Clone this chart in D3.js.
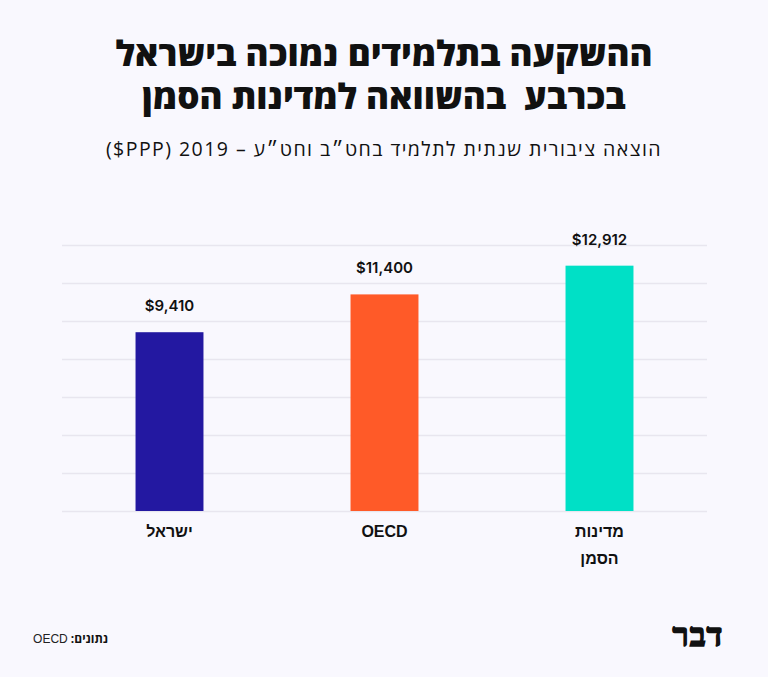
<!DOCTYPE html>
<html><head><meta charset="utf-8">
<script src="https://cdn.jsdelivr.net/npm/d3@7"></script>
<style>
html,body{margin:0;padding:0;background:#f9f8fe;}
svg{display:block;}
text{white-space:pre;}
</style></head>
<body>
<svg id="chart" width="768" height="677"></svg>
<script>
const categories = ["ישראל", "OECD", "מדינות\nהסמן"];
const values = [9410, 11400, 12912];
const valueLabels = ["$9,410", "$11,400", "$12,912"];
const colors = ["#2318a1", "#ff5a28", "#00e0c6"];
const yTicks = [0, 2000, 4000, 6000, 8000, 10000, 12000, 14000];
const titleLines = ["ההשקעה בתלמידים נמוכה בישראל", "בכרבע  בהשוואה למדינות הסמן"];
const subtitle = "הוצאה ציבורית שנתית לתלמיד בחט\u05F4ב וחט\u05F4ע \u2013 2019 \u2066($PPP)\u2069";
const sourceLabel = "נתונים: ";
const sourceValue = "OECD";
const logoText = "דבר";

const svg = d3.select("#chart");
svg.append("rect").attr("width",768).attr("height",677).attr("fill","#f9f8fe");

const heb = "'Open Sans','Liberation Sans','DejaVu Sans',sans-serif";

svg.selectAll("text.title").data(titleLines).join("text")
  .attr("class","title")
  .attr("x",384).attr("y",(d,i)=>66+i*43)
  .attr("text-anchor","middle").attr("direction","rtl")
  .attr("font-family",heb).attr("font-weight",800).attr("font-size",35)
  .attr("fill","#111").text(d=>d);

svg.append("text").attr("x",384).attr("y",156)
  .attr("text-anchor","middle").attr("direction","rtl")
  .attr("font-family",heb).attr("font-weight",500).attr("font-size",19.5)
  .attr("letter-spacing",1.45)
  .attr("fill","#111").text(subtitle);

const x = d3.scaleBand().domain(categories).range([62,707]).paddingInner(0.684).paddingOuter(0.342);
const y = d3.scaleLinear().domain([0,14000]).range([511,245]);

const grid = svg.append("g").call(d3.axisLeft(y).tickValues(yTicks).tickSize(-(707-62)).tickFormat(""))
  .attr("transform","translate(62,0)");
grid.select(".domain").remove();
grid.selectAll("line").attr("stroke","#e8e6ef").attr("stroke-width",1.5);

svg.selectAll("rect.bar").data(values).join("rect")
  .attr("class","bar")
  .attr("x",(d,i)=>x(categories[i]))
  .attr("width",x.bandwidth())
  .attr("y",d=>y(d))
  .attr("height",d=>y(0)-y(d))
  .attr("fill",(d,i)=>colors[i]);

svg.selectAll("text.val").data(values).join("text")
  .attr("class","val")
  .attr("x",(d,i)=>x(categories[i])+x.bandwidth()/2)
  .attr("y",d=>y(d)-21)
  .attr("text-anchor","middle")
  .attr("font-family","Inter, 'Open Sans', sans-serif").attr("font-weight",600).attr("font-size",15)
  .attr("fill","#111").text((d,i)=>valueLabels[i]);

const xl = svg.selectAll("text.cat").data(categories).join("text")
  .attr("class","cat")
  .attr("text-anchor","middle").attr("direction","rtl")
  .attr("font-family","'Liberation Sans', 'Open Sans', sans-serif").attr("font-weight",700).attr("font-size",16)
  .attr("fill","#111");
xl.each(function(d){
  const t = d3.select(this);
  d.split("\n").forEach((line,j)=>{
    t.append("tspan").attr("x",x(d)+x.bandwidth()/2).attr("y",537+j*27).text(line);
  });
});

const src = svg.append("text").attr("x",108).attr("y",643).attr("text-anchor","start").attr("direction","rtl")
  .attr("font-size",12).attr("fill","#111");
src.append("tspan").attr("font-family",heb).attr("font-weight",700).text(sourceLabel);
src.append("tspan").attr("font-family","'Liberation Sans', sans-serif").attr("font-weight",400).attr("fill","#222").text(sourceValue);

svg.append("text").attr("x",698).attr("y",646).attr("text-anchor","middle").attr("direction","rtl")
  .attr("font-family","'DejaVu Serif','Liberation Serif',serif").attr("font-weight",900).attr("font-size",33)
  .attr("letter-spacing",1)
  .attr("stroke","#111").attr("stroke-width",1.6)
  .attr("fill","#111").text(logoText);
</script>
</body></html>
